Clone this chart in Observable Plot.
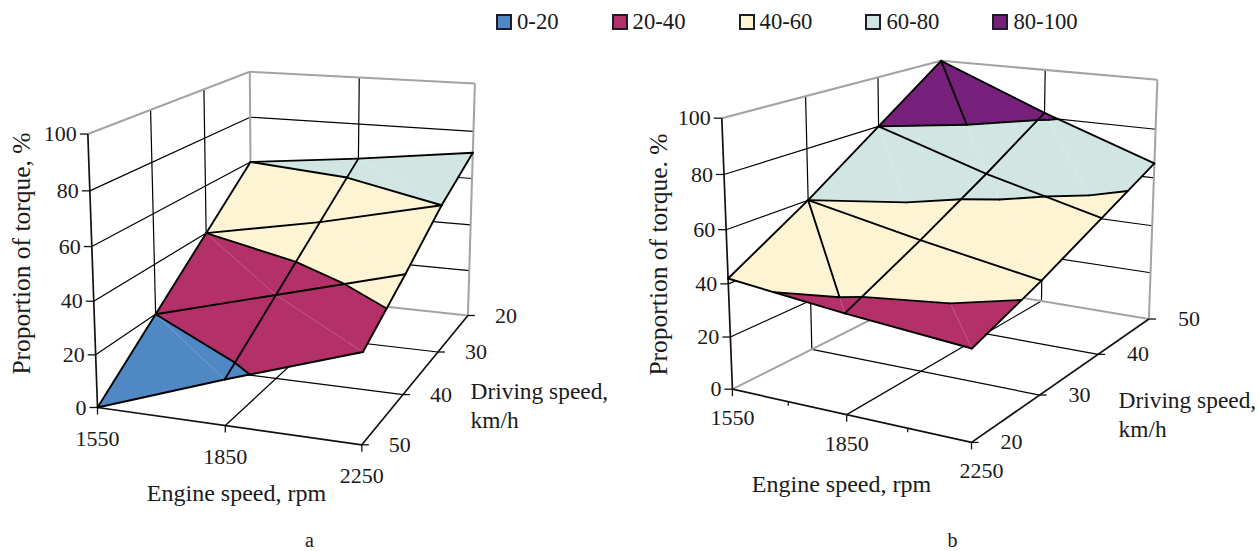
<!doctype html>
<html><head><meta charset="utf-8">
<style>
html,body{margin:0;background:#fff}
#legend{height:40px;box-sizing:border-box;padding:3px 0 0 496px;display:flex;align-items:center;gap:53px;font:22.7px "Liberation Serif",serif;color:#1a1a1a}
#legend .item{display:flex;align-items:center;gap:5px}
#legend .sw{display:block;box-sizing:border-box;width:16px;height:16px;border:2px solid #1c1c2a}
svg{display:block}
</style>
<script src="https://cdn.jsdelivr.net/npm/d3@7"></script>
<script src="https://cdn.jsdelivr.net/npm/@observablehq/plot@0.6"></script>
</head><body><div id="legend"></div><div id="chart"></div>
<script>
// ---- values ----
const engineSpeeds = [1550, 1850, 2250];
const drivingSpeedsA = [20, 30, 40, 50];   // back to front
const drivingSpeedsB = [50, 40, 30, 20];   // back to front
const torqueTicks = [0, 20, 40, 60, 80, 100];
const torqueA = [[60, 65, 71], [40, 49, 60], [20, 33, 46], [0, 17, 33]];
const torqueB = [[100, 82, 66], [80, 66, 54.5], [60, 51, 43], [42, 37, 33]];
const bandLabels = ["0-20", "20-40", "40-60", "60-80", "80-100"];
const bandColors = ["#4f88c4", "#b43068", "#fcf4d2", "#d1e6e2", "#761f7b"];
const bandLevels = [0, 20, 40, 60, 80, 100];
const torqueTitles = ["Proportion of torque, %", "Proportion of torque. %"];
const engineTitle = "Engine speed, rpm";
const drivingTitle = ["Driving speed,", "km/h"];
const panelLetters = ["a", "b"];

// camera of each 3-D box: (engine index, speed index, torque share) -> page pixels
const cameraA = [96.22932,-57.86085,-10.96622,251.0144,3.514613,11.00238,-223.1947,291.8216,-0.02560696,-0.06729577,-0.03707014];
const cameraB = [63.91418,-114.5482,-36.04725,940.9682,6.396657,11.18785,-225.6576,283.6602,-0.0346609,-0.06129712,-0.03796067];
const px = (c, p) => (c[0]*p.u + c[1]*p.v + c[2]*p.t/100 + c[3]) / (c[8]*p.u + c[9]*p.v + c[10]*p.t/100 + 1);
const py = (c, p) => (c[4]*p.u + c[5]*p.v + c[6]*p.t/100 + c[7]) / (c[8]*p.u + c[9]*p.v + c[10]*p.t/100 + 1);
const P = (u, v, t) => ({u, v, t});
const mix = (a, b, f) => P(a.u + (b.u-a.u)*f, a.v + (b.v-a.v)*f, a.t + (b.t-a.t)*f);

function clip(poly, level, above) {
  const keep = p => above ? p.t >= level : p.t <= level, out = [];
  poly.forEach((a, i) => {
    const b = poly[(i+1) % poly.length];
    if (keep(a)) out.push(a);
    if (keep(a) !== keep(b)) out.push(mix(a, b, (level-a.t)/(b.t-a.t)));
  });
  return out;
}
function crossing(tri, level) {
  const hits = [];
  tri.forEach((a, i) => {
    const b = tri[(i+1) % 3];
    if ((a.t < level) !== (b.t < level)) hits.push(mix(a, b, (level-a.t)/(b.t-a.t)));
  });
  return hits.length === 2 ? hits : null;
}

function surface(torque) {
  const polys = [], black = [], faint = [];
  const Q = (i, j) => P(j, i, torque[i][j]);
  const tris = [];
  torque.forEach((row, i) => row.forEach((_, j) => {
    if (j < row.length-1) black.push([Q(i,j), Q(i,j+1)]);
    if (i < torque.length-1) black.push([Q(i,j), Q(i+1,j)]);
    if (i < torque.length-1 && j < row.length-1) {
      tris.push([Q(i,j), Q(i,j+1), Q(i+1,j+1)], [Q(i,j), Q(i+1,j+1), Q(i+1,j)]);
      faint.push([Q(i,j), Q(i+1,j+1)]);
    }
  }));
  tris.forEach(tri => {
    bandLabels.forEach((band, b) => {
      const poly = clip(clip(tri, bandLevels[b], true), bandLevels[b+1], false);
      if (poly.length > 2) polys.push({band, poly});
    });
    bandLevels.slice(1, -1).forEach(l => { const s = crossing(tri, l); if (s) black.push(s); });
  });
  return {polys, black, faint};
}

function box(speeds) {
  const thin = [], heavy = [], gray = [], nV = speeds.length-1, nU = engineSpeeds.length-1;
  torqueTicks.slice(1,-1).forEach(t => {
    thin.push([P(0,nV,t), P(0,0,t)], [P(0,0,t), P(nU,0,t)]);
  });
  speeds.forEach((_, v) => { if (v>0 && v<nV) {
    thin.push([P(0,v,0), P(0,v,100)], [P(0,v,0), P(nU,v,0)]);
  }});
  engineSpeeds.forEach((_, u) => { if (u>0 && u<nU) {
    thin.push([P(u,0,0), P(u,0,100)], [P(u,0,0), P(u,nV,0)]);
  }});
  gray.push([P(0,nV,100), P(0,0,100)], [P(0,0,100), P(nU,0,100)], [P(nU,0,100), P(nU,0,0)], [P(0,0,100), P(0,0,0)], [P(0,0,0), P(nU,0,0)], [P(0,0,0), P(0,nV,0)]);
  heavy.push([P(0,nV,0), P(0,nV,100)], [P(0,nV,0), P(nU,nV,0)], [P(nU,nV,0), P(nU,0,0)]);
  return {thin, heavy, gray};
}

const linkOf = (cam, segs, o) => Plot.link(segs, {
  x1: s => px(cam, s[0]), y1: s => py(cam, s[0]), x2: s => px(cam, s[1]), y2: s => py(cam, s[1]), ...o});

function panel(cam, torque, speeds, title, opts) {
  const b = box(speeds), s = surface(torque);
  const nV = speeds.length-1, nU = engineSpeeds.length-1;
  const verts = s.polys.flatMap((p, id) => p.poly.concat(p.poly[0]).map(q => ({id, band: p.band, q})));
  const zPts = torqueTicks.map(t => ({t, p: P(0,nV,t)}));
  const uPts = engineSpeeds.map((e, u) => ({e, p: P(u,nV,0)}));
  const halfU = (opts.halfTicks || []).map(u => P(u,nV,0));
  const vPts = speeds.map((e, v) => ({e, p: P(nU,v,0)}));
  const font = {fontFamily: "Liberation Serif", fontSize: 22, fill: "#1a1a1a"};
  const at = (dx, dy) => ({x: q => px(cam, q.p) + dx, y: q => py(cam, q.p) + dy});
  return [
    linkOf(cam, b.thin, {stroke: "#000", strokeWidth: 1.2}),
    linkOf(cam, b.gray, {stroke: "#a3a3a3", strokeWidth: 2}),
    linkOf(cam, b.heavy, {stroke: "#111", strokeWidth: 1.7}),
    Plot.link(zPts, {x1: d => px(cam,d.p), y1: d => py(cam,d.p), x2: d => px(cam,d.p)-8, y2: d => py(cam,d.p), stroke: "#111", strokeWidth: 1.3}),
    Plot.link(uPts, {x1: d => px(cam,d.p), y1: d => py(cam,d.p), x2: d => px(cam,d.p), y2: d => py(cam,d.p)+7, stroke: "#111", strokeWidth: 1.3}),
    Plot.link(halfU, {x1: d => px(cam,d), y1: d => py(cam,d), x2: d => px(cam,d), y2: d => py(cam,d)+4, stroke: "#111", strokeWidth: 1.3}),
    Plot.link(vPts, {x1: d => px(cam,d.p), y1: d => py(cam,d.p), x2: d => px(cam,d.p)+7, y2: d => py(cam,d.p), stroke: "#111", strokeWidth: 1.3}),
    Plot.line(verts, {x: d => px(cam,d.q), y: d => py(cam,d.q), z: "id", fill: "band", stroke: "band", strokeWidth: 0.6}),
    linkOf(cam, s.faint, {stroke: "#fff", strokeOpacity: 0.2, strokeWidth: 0.8}),
    linkOf(cam, s.black.concat(opts.blackDiagonals ? opts.blackDiagonals(torque) : []), {stroke: "#000", strokeWidth: 1.9, strokeLinecap: "round"}),
    Plot.text(zPts, {...at(-11,0), text: d => String(d.t), textAnchor: "end", ...font}),
    Plot.text(uPts, {x: (q, i) => px(cam, q.p) + (i === nU ? opts.lastRpmDx || 0 : 0), y: q => py(cam, q.p) + opts.rpmDy, text: d => String(d.e), ...font}),
    Plot.text(vPts, {...at(opts.speedDx,0), text: d => String(d.e), textAnchor: "start", ...font}),
    Plot.text([title], {x: () => opts.yTitle[0], y: () => opts.yTitle[1], rotate: -90, ...font, fontSize: 25.5}),
    Plot.text([engineTitle], {x: () => opts.xTitle[0], y: () => opts.xTitle[1], ...font, fontSize: 24}),
    Plot.text(drivingTitle, {x: () => opts.zTitle[0], y: (_, i) => opts.zTitle[1] + i*29, textAnchor: "start", ...font, fontSize: 23.4}),
    Plot.text([opts.letter], {x: () => opts.letterAt[0], y: () => opts.letterAt[1], ...font, fontSize: 20})
  ];
}

// In panel b two cell diagonals are inked where the surface is high enough
const diagonalsB = t => {
  const c = P(0,2,t[2][0]), d = P(1,3,t[3][1]), e = P(0,0,t[0][0]), f = P(1,1,t[1][1]);
  return [[e, mix(e, f, (t[0][0]-80)/(t[0][0]-t[1][1]))], [c, mix(c, d, (t[2][0]-40)/(t[2][0]-t[3][1]))]];
};

const marks = [
  ...panel(cameraA, torqueA, drivingSpeedsA, torqueTitles[0], {
    rpmDy: 31, speedDx: 27, yTitle: [21,253], xTitle: [236,493], zTitle: [470,391], letter: panelLetters[0], letterAt: [309,540]}),
  ...panel(cameraB, torqueB, drivingSpeedsB, torqueTitles[1], {
    rpmDy: 29, speedDx: 29, lastRpmDx: 10, halfTicks: [0.5, 1.5], blackDiagonals: diagonalsB, yTitle: [658,254], xTitle: [841,484], zTitle: [1118,400], letter: panelLetters[1], letterAt: [952,540]})
];

const chart = Plot.plot({
  width: 1259, height: 511, margin: 0,
  x: {domain: [0, 1259], range: [0, 1259], axis: null},
  y: {domain: [40, 551], range: [0, 511], axis: null},
  color: {domain: bandLabels, range: bandColors},
  style: {background: "transparent"},
  marks
});
document.getElementById("chart").append(chart);

const legend = d3.select("#legend").selectAll("div").data(bandLabels).join("div").attr("class", "item");
legend.append("span").attr("class", "sw").style("background", (d, i) => bandColors[i]);
legend.append("span").text(d => d);
</script></body></html>
